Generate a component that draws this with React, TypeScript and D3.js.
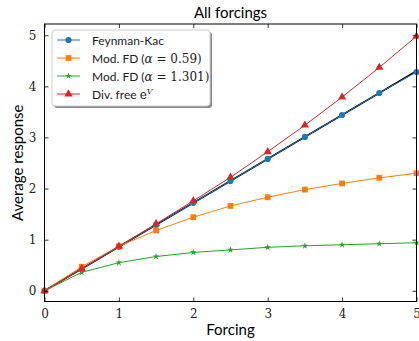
import React, { useEffect, useRef } from "react";
import * as d3 from "d3";

const forcing = [0, 0.5, 1, 1.5, 2, 2.5, 3, 3.5, 4, 4.5, 5];
const feynmanKac = [0, 0.43, 0.86, 1.29, 1.72, 2.15, 2.58, 3.01, 3.44, 3.87, 4.28];
const modFd059 = [0, 0.47, 0.87, 1.18, 1.44, 1.66, 1.83, 1.98, 2.1, 2.21, 2.3];
const modFd1301 = [0, 0.36, 0.55, 0.67, 0.75, 0.8, 0.85, 0.88, 0.9, 0.92, 0.94];
const divFree = [0, 0.43, 0.87, 1.31, 1.76, 2.22, 2.72, 3.24, 3.79, 4.37, 4.98];
const refX = [0, 5];
const refY = [0, 4.3];
const xTicks = [0, 1, 2, 3, 4, 5];
const yTicks = [0, 1, 2, 3, 4, 5];

const W = 419;
const H = 341;
const margin = { left: 44.5, right: 2.5, top: 24, bottom: 39.5 };

const series = [
  { key: "fk", color: "#1f77b4", values: feynmanKac, marker: "circle" },
  { key: "fd059", color: "#ff7f0e", values: modFd059, marker: "square" },
  { key: "fd1301", color: "#2ca02c", values: modFd1301, marker: "star" },
  { key: "div", color: "#d62728", values: divFree, marker: "triangle" },
];

const serif = "'DejaVu Serif', 'Liberation Serif', serif";
const sans = "Lato, 'Open Sans', sans-serif";

const App = () => {
  const svgRef = useRef<SVGSVGElement>(null);

  useEffect(() => {
    const svg = d3.select(svgRef.current);
    svg.selectAll("*").remove();

    const x = d3.scaleLinear().domain([0, 5]).range([margin.left, W - margin.right]);
    const y = d3.scaleLinear().domain([-0.21, 5.22]).range([H - margin.bottom, margin.top]);

    const line = d3
      .line<number>()
      .x((_, i) => x(forcing[i]))
      .y((d) => y(d));

    const symbols: Record<string, any> = {
      circle: d3.symbol().type(d3.symbolCircle).size(30),
      square: d3.symbol().type(d3.symbolSquare).size(34),
      star: d3.symbol().type(d3.symbolStar).size(14),
      triangle: d3.symbol().type(d3.symbolTriangle).size(30),
    };

    const plot = svg.append("g");

    // reference line
    plot
      .append("path")
      .attr(
        "d",
        d3.line<number>().x((d) => x(d)).y((_, i) => y(refY[i]))(refX)
      )
      .attr("stroke", "black")
      .attr("stroke-width", 1.6)
      .attr("fill", "none");

    series.forEach((s) => {
      plot
        .append("path")
        .attr("d", line(s.values))
        .attr("stroke", s.color)
        .attr("stroke-width", 1)
        .attr("fill", "none");
      plot
        .selectAll(null)
        .data(s.values)
        .enter()
        .append("path")
        .attr("d", symbols[s.marker])
        .attr("transform", (d, i) => `translate(${x(forcing[i])},${y(d)})`)
        .attr("fill", s.color);
    });

    // axes with inward ticks on all sides
    const axisStyle = (g: any) => {
      g.select(".domain").remove();
      g.selectAll(".tick line").attr("stroke", "black").attr("stroke-width", 0.8);
      g.selectAll(".tick text")
        .attr("font-family", serif)
        .attr("font-size", 12)
        .attr("fill", "#222");
    };

    svg
      .append("g")
      .attr("transform", `translate(0,${H - margin.bottom})`)
      .call(d3.axisBottom(x).tickValues(xTicks).tickSizeInner(-4).tickPadding(8).tickFormat(d3.format("d")))
      .call(axisStyle);
    svg
      .append("g")
      .attr("transform", `translate(0,${margin.top})`)
      .call(d3.axisTop(x).tickValues(xTicks).tickSizeInner(-4).tickFormat(() => ""))
      .call(axisStyle);
    svg
      .append("g")
      .attr("transform", `translate(${margin.left},0)`)
      .call(d3.axisLeft(y).tickValues(yTicks).tickSizeInner(-4).tickPadding(8).tickFormat(d3.format("d")))
      .call(axisStyle);
    svg
      .append("g")
      .attr("transform", `translate(${W - margin.right},0)`)
      .call(d3.axisRight(y).tickValues(yTicks).tickSizeInner(-4).tickFormat(() => ""))
      .call(axisStyle);

    svg
      .append("rect")
      .attr("x", margin.left)
      .attr("y", margin.top)
      .attr("width", W - margin.right - margin.left)
      .attr("height", H - margin.bottom - margin.top)
      .attr("fill", "none")
      .attr("stroke", "black")
      .attr("stroke-width", 1);

    // titles
    svg
      .append("text")
      .attr("x", (margin.left + W - margin.right) / 2)
      .attr("y", 18)
      .attr("text-anchor", "middle")
      .attr("font-family", sans)
      .attr("font-size", 15)
      .text("All forcings");
    svg
      .append("text")
      .attr("x", (margin.left + W - margin.right) / 2)
      .attr("y", 335)
      .attr("text-anchor", "middle")
      .attr("font-family", sans)
      .attr("font-size", 15)
      .text("Forcing");
    svg
      .append("text")
      .attr("transform", `translate(23,${(margin.top + H - margin.bottom) / 2}) rotate(-90)`)
      .attr("text-anchor", "middle")
      .attr("font-family", sans)
      .attr("font-size", 15)
      .text("Average response");

    // legend
    const lg = svg.append("g").attr("transform", "translate(52,30)");
    lg.append("rect")
      .attr("x", 2)
      .attr("y", 2)
      .attr("width", 158)
      .attr("height", 76)
      .attr("rx", 3)
      .attr("fill", "#888");
    lg.append("rect")
      .attr("x", 0)
      .attr("y", 0)
      .attr("width", 158)
      .attr("height", 76)
      .attr("rx", 3)
      .attr("fill", "white")
      .attr("stroke", "#ccc");

    const labels = [
      [{ t: "Feynman-Kac", f: sans }],
      [{ t: "Mod. FD (", f: sans }, { t: "α", f: serif, i: true }, { t: " = 0.59)", f: serif }],
      [{ t: "Mod. FD (", f: sans }, { t: "α", f: serif, i: true }, { t: " = 1.301)", f: serif }],
      [{ t: "Div. free ", f: sans }, { t: "e", f: serif }, { t: "V", f: serif, i: true, sup: true }],
    ];

    series.forEach((s, k) => {
      const yy = 10 + k * 18;
      lg.append("line")
        .attr("x1", 5)
        .attr("x2", 28)
        .attr("y1", yy)
        .attr("y2", yy)
        .attr("stroke", s.color)
        .attr("stroke-width", 1);
      lg.append("path")
        .attr("d", symbols[s.marker])
        .attr("transform", `translate(16.5,${yy})`)
        .attr("fill", s.color);
      const txt = lg
        .append("text")
        .attr("x", 40)
        .attr("y", yy + 4.5)
        .attr("font-size", 12)
        .attr("fill", "#222");
      labels[k].forEach((p: any) => {
        const ts = txt.append("tspan").attr("font-family", p.f).text(p.t);
        if (p.i) ts.attr("font-style", "italic");
        if (p.sup) ts.attr("font-size", 8).attr("dy", -5);
      });
    });
  }, []);

  return (
    <svg
      ref={svgRef}
      width={W}
      height={H}
      style={{ position: "absolute", left: 0, top: 0, background: "white" }}
    ></svg>
  );
};

export default App;
